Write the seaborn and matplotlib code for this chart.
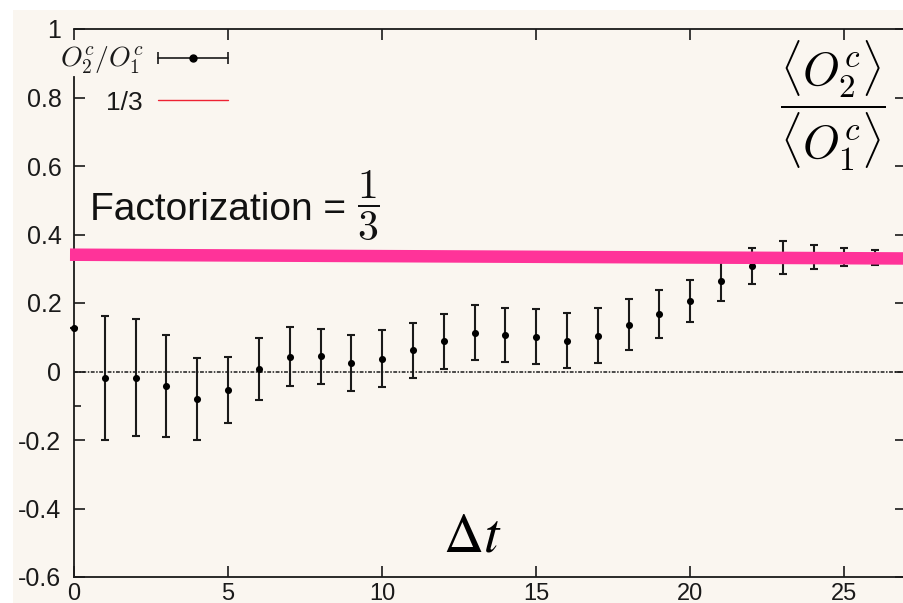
import matplotlib
matplotlib.use("Agg")
import matplotlib.pyplot as plt
from matplotlib.lines import Line2D
from matplotlib.patches import Rectangle
from matplotlib.legend_handler import HandlerLine2D, HandlerTuple
import seaborn as sns

# Ratio of connected correlators <O2c>/<O1c> against time separation
dt = list(range(27))
ratio = [0.128, -0.020, -0.018, -0.043, -0.080, -0.053, 0.007, 0.043, 0.044,
         0.024, 0.037, 0.062, 0.088, 0.113, 0.106, 0.102, 0.090, 0.105,
         0.137, 0.169, 0.206, 0.263, 0.309, 0.333, 0.333, 0.334, 0.333]
ratio_err = [0.0, 0.181, 0.170, 0.149, 0.119, 0.096, 0.090, 0.086, 0.081,
             0.082, 0.083, 0.080, 0.080, 0.080, 0.078, 0.080, 0.080, 0.079,
             0.075, 0.070, 0.062, 0.058, 0.053, 0.047, 0.035, 0.027, 0.022]

# Factorization prediction and the marker-pen guide drawn across the plateau
factorization_value = 1 / 3
guide_x = [-0.13, 27.0]
guide_y = [0.341, 0.330]

x_ticks = [0, 5, 10, 15, 20, 25]
x_tick_labels = ["0", "5", "10", "15", "20", "25"]
y_ticks = [-0.6, -0.4, -0.2, 0.0, 0.2, 0.4, 0.6, 0.8, 1.0]
y_tick_labels = ["-0.6", "-0.4", "-0.2", "0", "0.2", "0.4", "0.6", "0.8", "1"]

sns.set_theme(style="ticks")
plt.rcParams["font.family"] = ["Liberation Sans", "DejaVu Sans"]
plt.rcParams["mathtext.fontset"] = "cm"

W, H = 904, 603
CREAM = "#faf6f0"
INK = "#1a1a1a"

fig = plt.figure(figsize=(W / 100, H / 100), dpi=100, facecolor="white")
fig.patches.append(Rectangle((13 / W, 0), 1, 1 - 10 / H, transform=fig.transFigure,
                             facecolor=CREAM, edgecolor="none", zorder=-1))

ax = fig.add_axes([74 / W, 26 / H, (906 - 74) / W, (577 - 29) / H])
ax.set_facecolor(CREAM)

# zero reference line
ax.axhline(0, color=INK, lw=1.1, ls=(0, (2.5, 1, 1, 1)), zorder=1)
# factorization value
ax.axhline(factorization_value, color="#e8192c", lw=1.0, zorder=2)

ax.errorbar(dt, ratio, yerr=ratio_err, fmt="none", ecolor=INK, elinewidth=1.5,
            capsize=3, capthick=1.5, zorder=3, clip_on=False)
sns.scatterplot(x=dt, y=ratio, ax=ax, color="black", s=26, marker="o",
                linewidth=0, zorder=4, clip_on=False, legend=False)

sns.lineplot(x=guide_x, y=guide_y, ax=ax, color="#ff3399", lw=9,
             solid_capstyle="butt", clip_on=False, zorder=5, legend=False)

ax.set_xlim(0, 27)
ax.set_ylim(-0.6, 1.0)
ax.set_xticks(x_ticks, x_tick_labels)
ax.set_yticks(y_ticks, y_tick_labels)
ax.set_yticks([-0.1], minor=True)
ax.set_xlabel("")
ax.set_ylabel("")

ax.tick_params(which="major", direction="in", length=8, width=1.2,
               top=True, right=True, colors=INK)
ax.tick_params(which="minor", direction="in", length=5, width=1.2,
               left=True, right=False, colors=INK)
ax.tick_params(axis="y", labelsize=18, pad=9)
ax.tick_params(axis="x", labelsize=17, pad=4)
for side in ["left", "right", "top", "bottom"]:
    ax.spines[side].set_visible(True)
    ax.spines[side].set_linewidth(1.3)
    ax.spines[side].set_color(INK)
ax.spines["left"].set_bounds(-0.6, 0.86)

# legend: gnuplot-like key with text first and horizontal error-bar sample
cap_line = Line2D([], [], color=INK, lw=1.2, marker="|", markersize=9,
                  markeredgewidth=1.2)
dot = Line2D([], [], color="black", marker="o", markersize=5, ls="none")
red = Line2D([], [], color="#ee2233", lw=1.0)
leg = ax.legend([(cap_line, dot), red], [r"$O_2^c/O_1^c$", "1/3"],
                handler_map={cap_line: HandlerLine2D(numpoints=2, marker_pad=0),
                             dot: HandlerLine2D(numpoints=1),
                             tuple: HandlerTuple(ndivide=1, pad=0)},
                markerfirst=False, frameon=False, loc="upper right",
                bbox_to_anchor=(228 / W, 1 - 45 / H), bbox_transform=fig.transFigure,
                fontsize=19, handlelength=2.65, handletextpad=0.57,
                labelspacing=0.55, borderpad=0, borderaxespad=0)
for t in leg.get_texts():
    t.set_color(INK)
leg.get_texts()[0].set_fontsize(20)

fig.text(90 / W, 1 - 220 / H, "Factorization =", fontsize=28,
         ha="left", va="baseline", color="#111111")
fig.text(368 / W, 1 - 206 / H, r"$\dfrac{1}{3}$", fontsize=30,
         ha="center", va="center", color="#111111")
fig.text(472 / W, 1 - 552 / H, r"$\Delta t$", fontsize=40, math_fontfamily="stix",
         ha="center", va="baseline", color="black")
fig.text(833 / W, 1 - 106 / H,
         r"$\dfrac{\langle O_2^c\rangle}{\langle O_1^c\rangle}$", fontsize=34,
         ha="center", va="center", color="black")

fig.savefig("out.png", dpi=100, facecolor=fig.get_facecolor())
